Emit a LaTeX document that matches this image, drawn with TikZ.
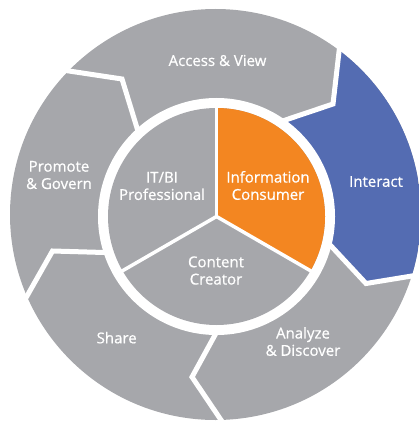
\documentclass[tikz,border=0pt]{standalone}
\usepackage{fontspec}
\setmainfont{Open Sans}
\newfontfamily\lblfont{Open Sans}[FakeBold=0.7]
\definecolor{segGrey}{RGB}{166,167,171}
\definecolor{segOrange}{RGB}{243,134,33}
\definecolor{segBlue}{RGB}{84,108,178}
\begin{document}
\begin{tikzpicture}[x=1pt,y=-1pt,
  lbl/.style={text=white, font=\lblfont\fontsize{15}{17.3}\selectfont, align=center, inner sep=0pt},
  gap/.style={draw=white, line width=5pt, line join=miter},
  divider/.style={draw=white, line width=3.5pt}]
\useasboundingbox (0,0) rectangle (418,422);
\coordinate (Co) at (215.5,214.5);
\coordinate (Ci) at (216.5,216.5);
% boundary polylines (inner end, kink, outer end)
\coordinate (b1i) at (278,122.5);  \coordinate (b1m) at (333,104);   \coordinate (b1o) at (341.5,30);
\coordinate (b2i) at (320,234.1);  \coordinate (b2m) at (366,283.5); \coordinate (b2o) at (440,271.4);
\coordinate (b3i) at (220.75,324.5); \coordinate (b3m) at (192,377); \coordinate (b3o) at (227,428.9);
\coordinate (b4i) at (114.5,252.8); \coordinate (b4m) at (52.5,251); \coordinate (b4o) at (21.5,305.7);
\coordinate (b5i) at (141,141);    \coordinate (b5m) at (122,79);    \coordinate (b5o) at (59,69.5);
% outer ring
\fill[segGrey] (Co) circle (205.5);
\begin{scope}
  \clip (Co) circle (205.5);
  \fill[segBlue] (b1i) -- (b1m) -- (b1o) -- (500,30) -- (500,300) -- (b2o) -- (b2m) -- (b2i) -- cycle;
\end{scope}
\draw[gap] (b1i) -- (b1m) -- (b1o);
\draw[gap] (b2i) -- (b2m) -- (b2o);
\draw[gap] (b3i) -- (b3m) -- (b3o);
\draw[gap] (b4i) -- (b4m) -- (b4o);
\draw[gap] (b5i) -- (b5m) -- (b5o);
% white ring and inner pie
\fill[white] (Ci) circle (118.5);
\fill[segGrey] (Ci) circle (108.5);
\fill[segOrange] (Ci) -- ++(-90:108.5) arc[start angle=-90, end angle=30, radius=108.5] -- cycle;
\draw[divider] (Ci) -- ++(-90:110);
\draw[divider] (Ci) -- ++(30:110);
\draw[divider] (Ci) -- ++(150:110);
% labels
\node[lbl] (access) at (217.5,60.5) {Access \& View};
\node[lbl] (interact) at (376,181.5) {Interact};
\node[lbl] (analyze) at (303,341.5) {Analyze\\\& Discover};
\node[lbl] (share) at (116.7,337.7) {Share};
\node[lbl] (promote) at (59,175) {Promote\\\& Govern};
\node[lbl] (itbi) at (162,186) {IT/BI\\Professional};
\node[lbl] (info) at (268,185.5) {Information\\Consumer};
\node[lbl] (content) at (216,270.5) {Content\\Creator};
\end{tikzpicture}
\end{document}
